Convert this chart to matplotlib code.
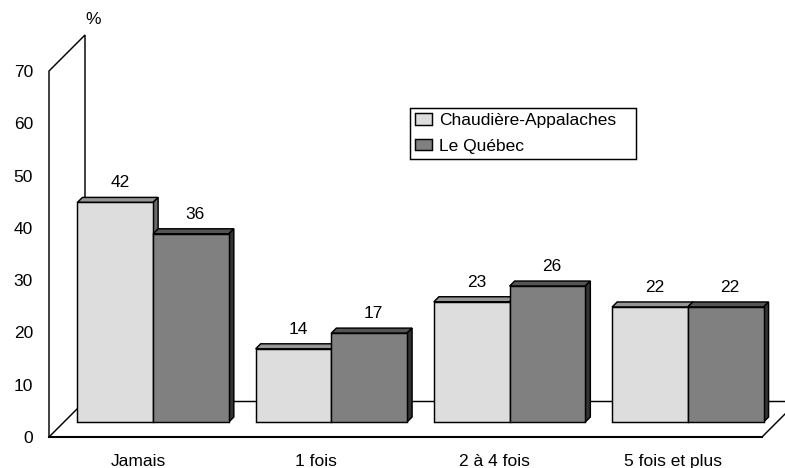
import matplotlib
matplotlib.use("Agg")
import matplotlib.pyplot as plt
from matplotlib.patches import Patch

categories = ["Jamais", "1 fois", "2 à 4 fois", "5 fois et plus"]
chaudiere = [42, 14, 23, 22]
quebec = [36, 17, 26, 22]
yticks = [0, 10, 20, 30, 40, 50, 60, 70]

W, H = 785, 468
L, R, T, B = 49, 762, 71, 437
plt.rcParams["font.family"] = ["Liberation Sans", "DejaVu Sans"]
FS = 12.5
fig = plt.figure(figsize=(W / 100, H / 100), dpi=100, facecolor="white")
ax = fig.add_axes([L / W, 1 - B / H, (R - L) / W, (B - T) / H])
ax.set_xlim(-0.5, 3.5)
ax.set_ylim(0, 70)
for s in ax.spines.values():
    s.set_visible(False)
ax.patch.set_alpha(0)

px = 4 / (R - L)      # data units per pixel, x
py = 70 / (B - T)     # data units per pixel, y
LW = 1.05
floor = 36
off = 15
bw = 75.7 * px
d = 5

# wall and floor frame
line = dict(color="black", lw=LW, clip_on=False, zorder=1, solid_joinstyle="miter")
x0 = -0.5
x1 = 3.5
ax.plot([x0, x0, x0 + floor * px, x0 + floor * px], [0, 70, 70 + floor * py, floor * py], **line)
ax.plot([x0, x0 + floor * px], [0, floor * py], **line)
ax.plot([x0 + floor * px, x1 + floor * px], [floor * py, floor * py], **line)
ax.plot([x0, x1], [0, 0], color="black", lw=1.5, clip_on=False, zorder=1)
ax.plot([x1, x1 + floor * px], [0, floor * py], **line)


def draw(i, v, left, front, top, side, z):
    base = off * py
    ax.bar(left, v, bw, bottom=base, align="edge", color=front, edgecolor="black",
           linewidth=LW, clip_on=False, zorder=z + 0.2)
    xr = left + bw
    yt = base + v
    dx, dy = d * px, d * py
    ax.fill([left, left + dx, xr + dx, xr], [yt, yt + dy, yt + dy, yt], facecolor=top,
            edgecolor="black", linewidth=LW, clip_on=False, zorder=z)
    ax.fill([xr, xr + dx, xr + dx, xr], [base, base + dy, yt + dy, yt], facecolor=side,
            edgecolor="black", linewidth=LW, clip_on=False, zorder=z)
    ax.text(left + bw / 2 + 4.5 * px, yt + 19.5 * py, str(v), ha="center", va="center",
            fontsize=FS, color="black", clip_on=False, zorder=6)


for i, (a, b) in enumerate(zip(chaudiere, quebec)):
    c = i + off * px
    draw(i, a, c - bw, "#dddddd", "#969696", "#6a6a6a", 2)
    draw(i, b, c, "#808080", "#555555", "#333333", 3)

ax.set_xticks(range(len(categories)), categories, fontsize=FS)
ax.set_yticks(yticks, [str(t) for t in yticks], fontsize=FS)
ax.tick_params(axis="x", length=0, pad=12.5)
ax.tick_params(axis="y", length=0, pad=11.5)
for lab, shift in zip(ax.get_xticklabels(), categories):
    lab.set_ha("center")

ax.text(x0 + 44 * px, 70 + 51 * py, "%", ha="center", va="center", fontsize=FS, clip_on=False)

handles = [Patch(facecolor="#dddddd", edgecolor="black", linewidth=LW, label="Chaudière-Appalaches"),
           Patch(facecolor="#808080", edgecolor="black", linewidth=LW, label="Le Québec")]
ax_w = R - L
ax_h = B - T
leg = ax.legend(handles=handles, loc="upper left", mode="expand",
                bbox_to_anchor=((410 - L) / ax_w, 1 - (108 - T) / ax_h, 226 / ax_w, 0),
                fontsize=FS, frameon=True, fancybox=False, framealpha=1, edgecolor="black",
                borderpad=0.3, labelspacing=0.6, handlelength=0.95, handleheight=0.65,
                handletextpad=0.42, borderaxespad=0)
leg.get_frame().set_linewidth(LW)
leg.set_zorder(7)

fig.savefig("out.png", dpi=100)
